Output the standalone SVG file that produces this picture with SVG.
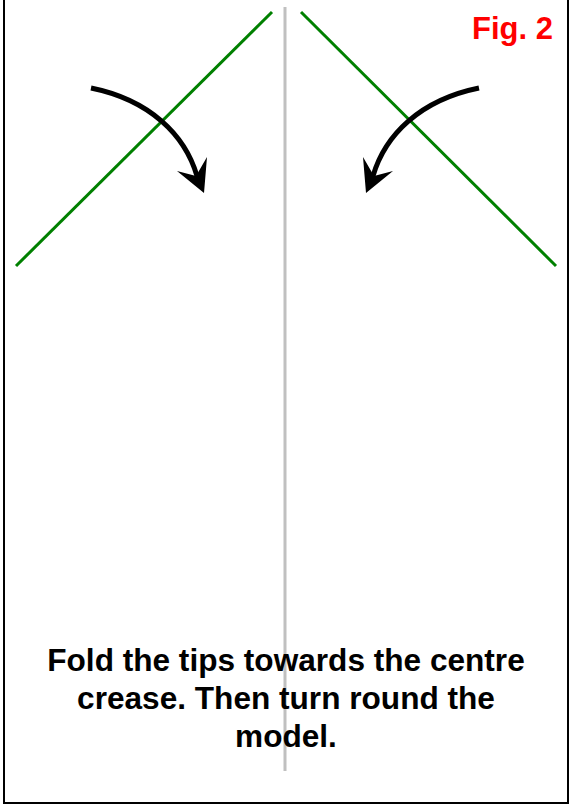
<svg xmlns="http://www.w3.org/2000/svg" width="573" height="809" viewBox="0 0 573 809">
<style>
.frame{fill:#fff;stroke:#000;stroke-width:2}
.crease{stroke:#c0c0c0;stroke-width:3;fill:none}
.fold{stroke:#008000;stroke-width:3;fill:none}
.arr{stroke:#000;stroke-width:5;fill:none}
.head{fill:#000}
.body{font-family:"Liberation Sans",Arial,sans-serif;font-weight:bold;font-size:31.6px;fill:#000;text-anchor:middle}
.fig{font-family:"Liberation Sans",Arial,sans-serif;font-weight:bold;font-size:31px;fill:#ff0000;text-anchor:end}
</style>
<rect class="frame" x="4" y="-10" width="564" height="813"/>
<g id="crease"><line class="crease" x1="285" y1="7" x2="285" y2="771"/></g>
<g id="fold-left"><line class="fold" x1="16" y1="266" x2="272" y2="12"/></g>
<g id="fold-right"><line class="fold" x1="301" y1="12" x2="556" y2="266"/></g>
<g id="connectors">
<g id="arrow-left">
<path class="arr" d="M91,88 C150,100 185,135 197,176"/>
<polygon class="head" points="204,193 177,171 196,176 207,157"/>
</g>
<g id="arrow-right">
<path class="arr" d="M479,88 C420,100 385,135 373,176"/>
<polygon class="head" points="366,193 393,171 374,176 363,157"/>
</g>
</g>
<g id="title"><text class="fig" x="553" y="39">Fig. 2</text></g>
<g id="caption">
<text class="body" x="286" y="671">Fold the tips towards the centre</text>
<text class="body" x="286" y="709">crease. Then turn round the</text>
<text class="body" x="286" y="747">model.</text>
</g>
</svg>
